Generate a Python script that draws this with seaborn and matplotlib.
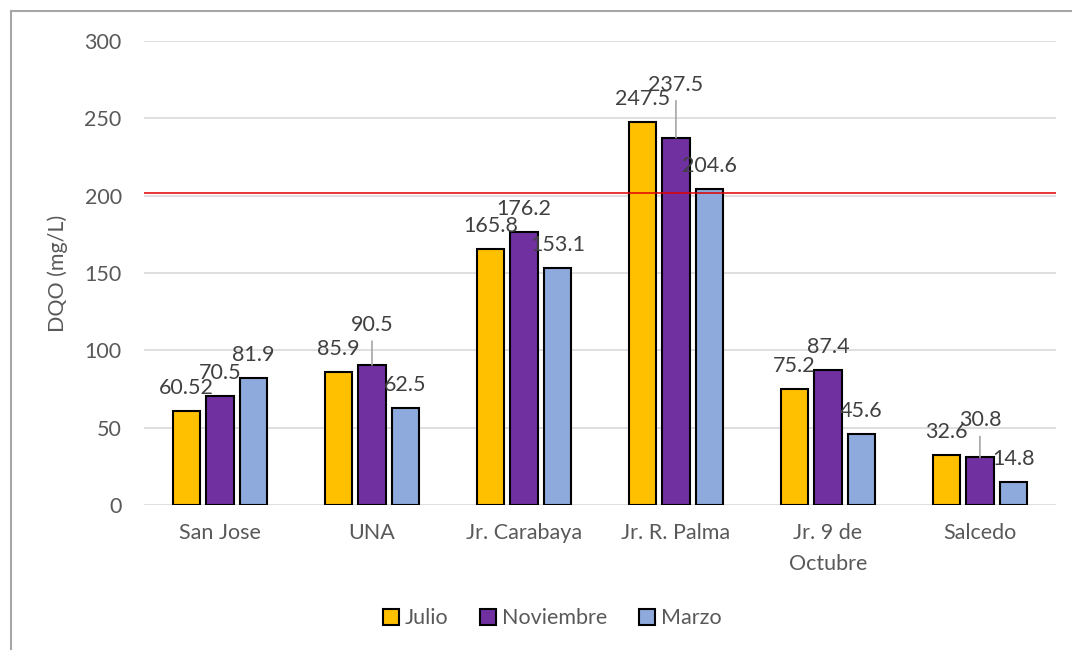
import matplotlib.pyplot as plt
import matplotlib.patches as mpatches
import seaborn as sns
import pandas as pd

# data
sites = ["San Jose", "UNA", "Jr. Carabaya", "Jr. R. Palma", "Jr. 9 de\nOctubre", "Salcedo"]
months = ["Julio", "Noviembre", "Marzo"]
julio = [60.52, 85.9, 165.8, 247.5, 75.2, 32.6]
noviembre = [70.5, 90.5, 176.2, 237.5, 87.4, 30.8]
marzo = [81.9, 62.5, 153.1, 204.6, 45.6, 14.8]
limit_value = 202
label_text = {
    "Julio": ["60.52", "85.9", "165.8", "247.5", "75.2", "32.6"],
    "Noviembre": ["70.5", "90.5", "176.2", "237.5", "87.4", "30.8"],
    "Marzo": ["81.9", "62.5", "153.1", "204.6", "45.6", "14.8"],
}

colors = ["#FFC000", "#7030A0", "#8EA9DB"]
text_col = "#595959"
fs = 15.5

df = pd.DataFrame({
    "site": sites * 3,
    "month": [m for m in months for _ in sites],
    "value": julio + noviembre + marzo,
})

sns.set_theme(style="white")
plt.rcParams["font.family"] = ["Lato", "DejaVu Sans"]

fig = plt.figure(figsize=(10.72, 6.5), dpi=100)
ax = fig.add_axes([0.1343, 0.2231, 0.8507, 0.7138])

sns.barplot(data=df, x="site", y="value", hue="month", hue_order=months,
            palette=colors, saturation=1, width=0.66, gap=0.18,
            edgecolor="black", linewidth=1.5, ax=ax, legend=False)

ax.set_ylim(0, 300)
ax.set_xlim(-0.5, len(sites) - 0.5)
ax.set_yticks(range(0, 301, 50))
ax.yaxis.grid(True, color="#D9D9D9", linewidth=1.2)
ax.set_axisbelow(True)
for s in ax.spines.values():
    s.set_visible(False)
ax.tick_params(axis="x", length=0, labelsize=fs, colors=text_col, pad=13)
ax.tick_params(axis="y", length=0, labelsize=fs, colors=text_col, pad=16)
for t in ax.get_xticklabels():
    t.set_linespacing(1.7)
ax.set_xlabel("")
ax.set_ylabel("DQO (mg/L)", fontsize=fs, color=text_col, labelpad=12)

# limit line
ax.axhline(limit_value, color="#E00000", linewidth=1.1, zorder=5)

# data labels (a few pushed up with leader lines, as in the original)
raised = {("Noviembre", 1): 40, ("Noviembre", 3): 53, ("Noviembre", 5): 37}
for month, cont in zip(months, ax.containers):
    for i, bar in enumerate(cont):
        x = bar.get_x() + bar.get_width() / 2
        y = bar.get_height()
        px = raised.get((month, i), 23)
        arrow = None
        if (month, i) in raised:
            arrow = dict(arrowstyle="-", color="#A6A6A6", lw=1.2, shrinkA=2, shrinkB=0)
        ax.annotate(label_text[month][i], xy=(x, y), xytext=(0, px * 0.72),
                    textcoords="offset points", ha="center", va="center",
                    fontsize=fs, color="#404040", arrowprops=arrow, zorder=6)

handles = [mpatches.Patch(facecolor=c, edgecolor="black", linewidth=1.5, label=m)
           for c, m in zip(colors, months)]
fig.legend(handles=handles, loc="center", bbox_to_anchor=(0.515, 0.049),
           ncol=3, frameon=False, fontsize=fs, handlelength=0.75, handleheight=0.75,
           handletextpad=0.25, columnspacing=1.5, labelcolor=text_col)

# outer chart frame
fig.patches.append(mpatches.Rectangle((11 / 1072, -0.05), 1.2, 1 - 11 / 650 + 0.05,
                                      transform=fig.transFigure, fill=False,
                                      edgecolor="#A6A6A6", linewidth=1.5))

fig.savefig("out.png", dpi=100)
